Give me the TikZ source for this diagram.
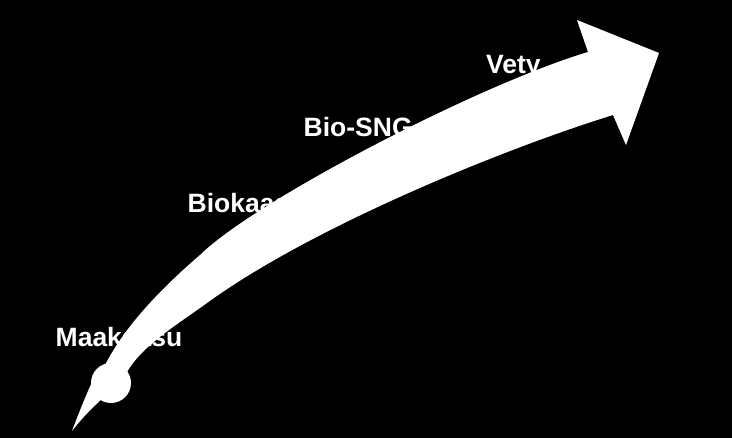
\documentclass[tikz,border=0pt]{standalone}
\usepackage{fontspec}
\setmainfont{Liberation Sans}
\begin{document}
\begin{tikzpicture}[x=1pt,y=-1pt,
  lbl/.style={anchor=base west,inner sep=0pt,text=white,font=\fontsize{26.5}{30}\selectfont\bfseries},
  arrowfill/.style={fill=white}]
\fill[black] (0,0) rectangle (732,438);
\useasboundingbox (0,0) rectangle (732,438);
\node[lbl] (maa) at (55.5,347) {Maakaasu};
\node[lbl] (bio) at (187.5,213) {Biokaasu};
\node[lbl] (sng) at (303.5,137) {Bio-SNG};
\node[lbl] (vet) at (486,74) {Vety};
% shaft and head
\fill[arrowfill] (104,367) .. controls (125,325) and (163,287) .. (200,255)
  .. controls (255,201) and (478,85) .. (588,52)
  -- (577,20) -- (659,53) -- (626,145) -- (613,115)
  .. controls (500,150) and (310,228) .. (207,303)
  .. controls (175,326) and (142,346) .. (127,372)
  -- cycle;
% tail
\fill[arrowfill] (72,431) .. controls (80,410) and (86,395) .. (93,380) -- (104,397) .. controls (92,408) and (82,418) .. (72,431) -- cycle;
\fill[arrowfill] (111,383) circle[radius=20];
\end{tikzpicture}
\end{document}
